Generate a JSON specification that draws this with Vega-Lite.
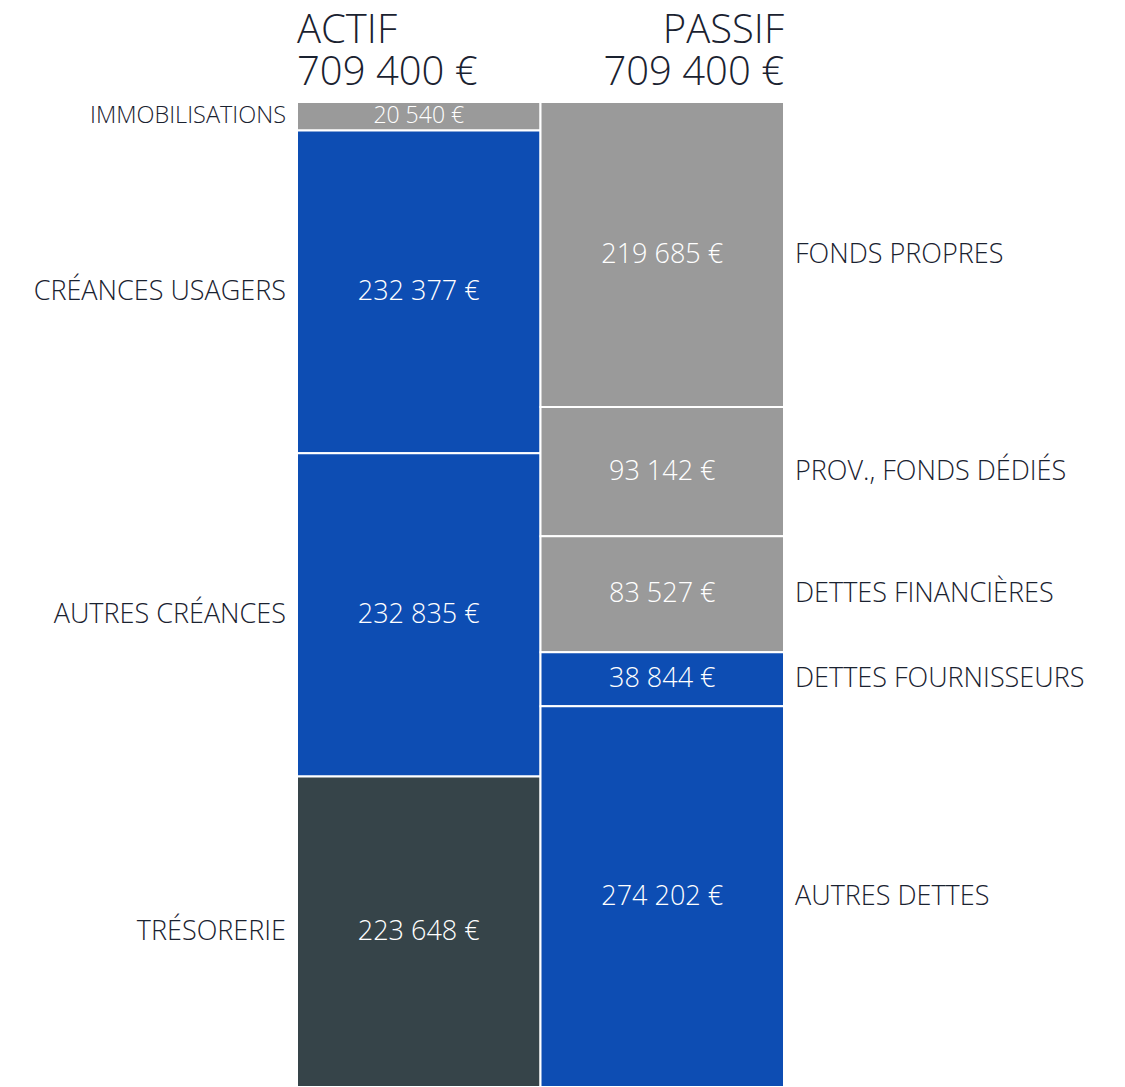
{
  "$schema": "https://vega.github.io/schema/vega-lite/v6.json",
  "width": 487,
  "height": 985,
  "autosize": "none",
  "padding": {"left": 297, "top": 102, "right": 341, "bottom": 0},
  "background": "white",
  "config": {
    "view": {"stroke": null},
    "locale": {"number": {"decimal": ",", "thousands": " ", "grouping": [3], "currency": ["", " €"]}},
    "text": {"font": "Open Sans", "fontWeight": 300}
  },
  "data": {
    "values": [
      {"side": "ACTIF", "order": 1, "category": "IMMOBILISATIONS", "value": 20540},
      {"side": "ACTIF", "order": 2, "category": "CRÉANCES USAGERS", "value": 232377},
      {"side": "ACTIF", "order": 3, "category": "AUTRES CRÉANCES", "value": 232835},
      {"side": "ACTIF", "order": 4, "category": "TRÉSORERIE", "value": 223648},
      {"side": "PASSIF", "order": 1, "category": "FONDS PROPRES", "value": 219685},
      {"side": "PASSIF", "order": 2, "category": "PROV., FONDS DÉDIÉS", "value": 93142},
      {"side": "PASSIF", "order": 3, "category": "DETTES FINANCIÈRES", "value": 83527},
      {"side": "PASSIF", "order": 4, "category": "DETTES FOURNISSEURS", "value": 38844},
      {"side": "PASSIF", "order": 5, "category": "AUTRES DETTES", "value": 274202}
    ]
  },
  "transform": [
    {"stack": "value", "groupby": ["side"], "sort": [{"field": "order", "order": "ascending"}], "as": ["y0", "y1"]},
    {"calculate": "(datum.y0 + datum.y1) / 2", "as": "mid"}
  ],
  "encoding": {
    "x": {"field": "side", "type": "nominal", "sort": ["ACTIF", "PASSIF"], "scale": {"paddingInner": 0, "paddingOuter": 0}, "axis": null}
  },
  "layer": [
    {
      "mark": {"type": "rect", "stroke": "white", "strokeWidth": 2},
      "encoding": {
        "y": {"field": "y0", "type": "quantitative", "scale": {"domain": [0, 709400], "reverse": true, "nice": false, "zero": true}, "axis": null},
        "y2": {"field": "y1"},
        "color": {
          "field": "category", "type": "nominal", "legend": null,
          "scale": {
            "domain": ["IMMOBILISATIONS", "CRÉANCES USAGERS", "AUTRES CRÉANCES", "TRÉSORERIE", "FONDS PROPRES", "PROV., FONDS DÉDIÉS", "DETTES FINANCIÈRES", "DETTES FOURNISSEURS", "AUTRES DETTES"],
            "range": ["#9a9a9a", "#0d4db3", "#0d4db3", "#364449", "#9a9a9a", "#9a9a9a", "#9a9a9a", "#0d4db3", "#0d4db3"]
          }
        }
      }
    },
    {
      "mark": {"type": "text", "color": "white", "baseline": "middle", "align": "center"},
      "encoding": {
        "y": {"field": "mid", "type": "quantitative"},
        "text": {"field": "value", "type": "quantitative", "format": "$,.0f"},
        "size": {"condition": {"test": "datum.value < 30000", "value": 23}, "value": 27}
      }
    },
    {
      "transform": [{"filter": "datum.side == 'ACTIF'"}],
      "mark": {"type": "text", "color": "#1a2230", "baseline": "middle", "align": "right", "dx": -11},
      "encoding": {
        "x": {"field": "side", "type": "nominal", "bandPosition": 0},
        "y": {"field": "mid", "type": "quantitative"},
        "text": {"field": "category"},
        "size": {"condition": {"test": "datum.value < 30000", "value": 23.5}, "value": 27}
      }
    },
    {
      "transform": [{"filter": "datum.side == 'PASSIF'"}],
      "mark": {"type": "text", "color": "#1a2230", "baseline": "middle", "align": "left", "dx": 11},
      "encoding": {
        "x": {"field": "side", "type": "nominal", "bandPosition": 1},
        "y": {"field": "mid", "type": "quantitative"},
        "text": {"field": "category"},
        "size": {"value": 27}
      }
    },
    {
      "transform": [
        {"aggregate": [{"op": "sum", "field": "value", "as": "total"}], "groupby": ["side"]},
        {"calculate": "[datum.side, replace(format(datum.total, ',.0f'), ',', ' ') + ' €']", "as": "header"},
        {"filter": "datum.side == 'ACTIF'"}
      ],
      "mark": {"type": "text", "color": "#1a2230", "baseline": "alphabetic", "align": "left", "fontSize": 40, "lineHeight": 42, "dy": -59},
      "encoding": {
        "x": {"field": "side", "type": "nominal", "bandPosition": 0},
        "y": {"datum": 0, "type": "quantitative"},
        "text": {"field": "header"}
      }
    },
    {
      "transform": [
        {"aggregate": [{"op": "sum", "field": "value", "as": "total"}], "groupby": ["side"]},
        {"calculate": "[datum.side, replace(format(datum.total, ',.0f'), ',', ' ') + ' €']", "as": "header"},
        {"filter": "datum.side == 'PASSIF'"}
      ],
      "mark": {"type": "text", "color": "#1a2230", "baseline": "alphabetic", "align": "right", "fontSize": 40, "lineHeight": 42, "dy": -59},
      "encoding": {
        "x": {"field": "side", "type": "nominal", "bandPosition": 1},
        "y": {"datum": 0, "type": "quantitative"},
        "text": {"field": "header"}
      }
    }
  ]
}
